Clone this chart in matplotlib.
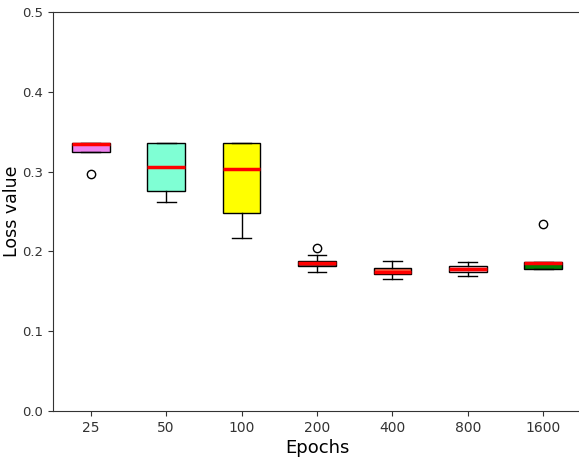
import matplotlib
matplotlib.use("Agg")
import matplotlib.pyplot as plt

# loss statistics per number of training epochs
epochs = ['25', '50', '100', '200', '400', '800', '1600']
q1 = [0.3246, 0.2757, 0.2480, 0.1817, 0.1717, 0.1738, 0.1783]
median = [0.3350, 0.3058, 0.3030, 0.1850, 0.1746, 0.1780, 0.1850]
q3 = [0.3360, 0.3360, 0.3360, 0.1880, 0.1788, 0.1821, 0.1863]
whis_lo = [0.3246, 0.2620, 0.2168, 0.1738, 0.1658, 0.1692, 0.1783]
whis_hi = [0.3360, 0.3360, 0.3360, 0.1955, 0.1880, 0.1863, 0.1863]
outliers = [[0.2970], [], [], [0.2046], [], [], [0.2340]]

colors = ['violet', 'aquamarine', 'yellow', 'brown', 'tomato', 'pink', 'green']

stats = []
for i in range(len(epochs)):
    stats.append({'label': epochs[i], 'q1': q1[i], 'med': median[i], 'q3': q3[i],
                  'whislo': whis_lo[i], 'whishi': whis_hi[i], 'fliers': outliers[i]})

fig = plt.figure(figsize=(5.79, 4.66), dpi=100)
ax = fig.add_axes([0.0915, 0.118, 0.912, 0.856])

bp = ax.bxp(stats, patch_artist=True, widths=0.5,
            medianprops=dict(color='red', linewidth=2.5),
            flierprops=dict(marker='o', markerfacecolor='none', markeredgecolor='black', markersize=6))
for box, c in zip(bp['boxes'], colors):
    box.set_facecolor(c)
    box.set_edgecolor('black')

ax.set_ylim(0, 0.5)
ax.set_xlim(0.5, 7.5)
ax.set_yticks([0.0, 0.1, 0.2, 0.3, 0.4, 0.5])
ax.tick_params(labelsize=10, colors='#333333')
ax.tick_params(axis='y', labelsize=9.5)
ax.set_xlabel('Epochs', fontsize=13, labelpad=3)
ax.set_ylabel('Loss value', fontsize=12.5)
ax.yaxis.set_label_coords(-0.06, 0.5)
for s in ax.spines.values():
    s.set_color('#333333')

fig.savefig('out.png', dpi=100)
